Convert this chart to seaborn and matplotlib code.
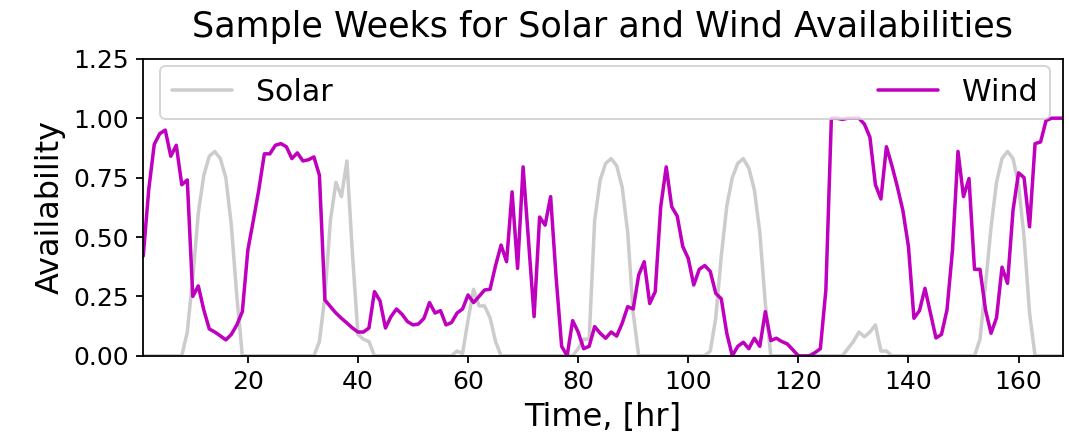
import numpy as np
import matplotlib
matplotlib.use("Agg")
import matplotlib.pyplot as plt
import seaborn as sns

hours = list(range(1, 169))

solar = [
    0, 0, 0, 0, 0, 0, 0, 0, 0.10, 0.33, 0.60, 0.76,
    0.84, 0.86, 0.83, 0.75, 0.55, 0.25, 0, 0, 0, 0, 0, 0,
    0, 0, 0, 0, 0, 0, 0, 0, 0.06, 0.25, 0.57, 0.73,
    0.67, 0.82, 0.43, 0.09, 0.07, 0.06, 0, 0, 0, 0, 0, 0,
    0, 0, 0, 0, 0, 0, 0, 0, 0, 0.02, 0.01, 0.15,
    0.28, 0.21, 0.21, 0.16, 0.06, 0, 0, 0, 0, 0, 0, 0,
    0, 0, 0, 0, 0, 0, 0, 0.03, 0.07, 0.07, 0.57, 0.74,
    0.81, 0.83, 0.80, 0.71, 0.52, 0.18, 0, 0, 0, 0, 0, 0,
    0, 0, 0, 0, 0, 0, 0, 0.02, 0.16, 0.42, 0.63, 0.75,
    0.81, 0.83, 0.79, 0.70, 0.52, 0.22, 0, 0, 0, 0, 0, 0,
    0, 0, 0, 0, 0, 0, 0, 0, 0.03, 0.06, 0.10, 0.08,
    0.10, 0.13, 0.02, 0.02, 0, 0, 0, 0, 0, 0, 0, 0,
    0, 0, 0, 0, 0, 0, 0, 0, 0.07, 0.30, 0.54, 0.73,
    0.83, 0.86, 0.83, 0.72, 0.50, 0.18, 0, 0, 0, 0, 0, 0,
]

wind = [
    0.42, 0.70, 0.89, 0.935, 0.95, 0.84, 0.886, 0.72, 0.74, 0.25, 0.294, 0.193,
    0.113, 0.10, 0.084, 0.067, 0.09, 0.13, 0.186, 0.445, 0.57, 0.70, 0.85, 0.85,
    0.886, 0.893, 0.88, 0.83, 0.854, 0.82, 0.825, 0.837, 0.76, 0.235, 0.207, 0.18,
    0.158, 0.138, 0.117, 0.10, 0.10, 0.117, 0.27, 0.232, 0.117, 0.165, 0.197, 0.175,
    0.144, 0.13, 0.134, 0.158, 0.224, 0.18, 0.19, 0.13, 0.14, 0.18, 0.197, 0.256,
    0.224, 0.25, 0.277, 0.28, 0.38, 0.466, 0.396, 0.69, 0.368, 0.795, 0.48, 0.165,
    0.584, 0.55, 0.67, 0.33, 0.04, 0.0, 0.148, 0.10, 0.03, 0.04, 0.123, 0.095,
    0.074, 0.10, 0.083, 0.137, 0.207, 0.197, 0.34, 0.396, 0.22, 0.27, 0.627, 0.795,
    0.627, 0.588, 0.46, 0.41, 0.298, 0.364, 0.38, 0.355, 0.263, 0.24, 0.095, 0.0,
    0.04, 0.057, 0.03, 0.074, 0.04, 0.186, 0.064, 0.074, 0.06, 0.05, 0.025, 0.0,
    0.0, 0.0, 0.013, 0.03, 0.277, 1.0, 1.0, 0.995, 1.0, 1.0, 1.0, 0.975,
    0.92, 0.72, 0.66, 0.88, 0.80, 0.71, 0.61, 0.46, 0.158, 0.19, 0.284, 0.18,
    0.075, 0.09, 0.193, 0.445, 0.86, 0.67, 0.746, 0.364, 0.364, 0.193, 0.095, 0.16,
    0.373, 0.305, 0.613, 0.77, 0.75, 0.543, 0.893, 0.90, 0.99, 1.0, 1.0, 1.0,
]

yticks = [0.0, 0.25, 0.5, 0.75, 1.0, 1.25]
xticks = [20, 40, 60, 80, 100, 120, 140, 160]

sns.set_style("ticks", {"text.color": "black", "axes.labelcolor": "black",
                        "xtick.color": "black", "ytick.color": "black",
                        "axes.edgecolor": "black"})
plt.rcParams["font.family"] = ["DejaVu Sans"]

fig = plt.figure(figsize=(1069 / 144, 442 / 144), dpi=144)
ax = fig.add_axes([0.134, 0.195, 0.860, 0.672])

sns.lineplot(x=hours, y=solar, color="#cccccc", linewidth=1.75, label="Solar", ax=ax)
sns.lineplot(x=hours, y=wind, color="#bf00bf", linewidth=1.75, label="Wind", ax=ax)

ax.set_xlim(1, 168)
ax.set_ylim(0, 1.25)
ax.set_xticks(xticks)
ax.set_yticks(yticks)
ax.set_yticklabels([f"{v:.2f}" for v in yticks])
ax.tick_params(labelsize=12.5, width=0.9, length=3.5)
for s in ax.spines.values():
    s.set_linewidth(0.9)

ax.set_title("Sample Weeks for Solar and Wind Availabilities", fontsize=17.5, pad=11)
ax.set_xlabel("Time, [hr]", fontsize=16)
ax.set_ylabel("Availability", fontsize=16)

ax.legend(loc="upper left", ncol=2, mode="expand", fontsize=15,
          bbox_to_anchor=(0.0185, 0, 0.9675, 0.976), borderaxespad=0,
          framealpha=0.8)

fig.savefig("out.png", dpi=144)
